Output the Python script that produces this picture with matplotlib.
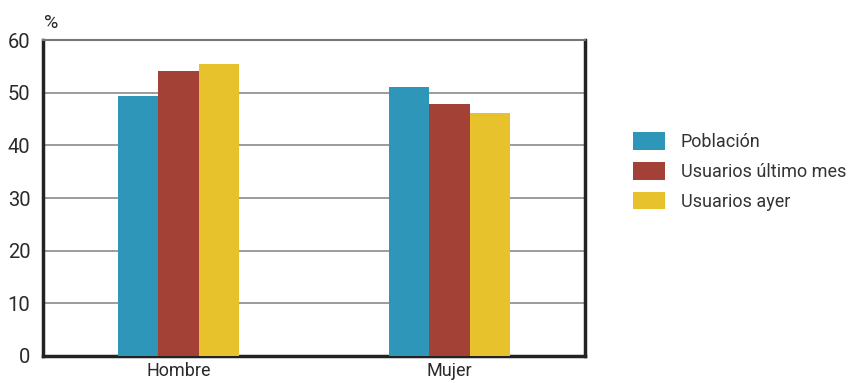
import matplotlib
matplotlib.use("Agg")
import matplotlib.pyplot as plt
import numpy as np

categories = ["Hombre", "Mujer"]
series_names = ["Población", "Usuarios último mes", "Usuarios ayer"]
poblacion = [49.3, 51.0]
usuarios_mes = [54.1, 47.8]
usuarios_ayer = [55.4, 46.1]
yticks = [0, 10, 20, 30, 40, 50, 60]

colors = ["#2E96B8", "#A44136", "#E8C22C"]

plt.rcParams['font.family'] = ['Roboto', 'DejaVu Sans']

fig = plt.figure(figsize=(8.5, 3.83), dpi=100)
ax = fig.add_axes([0.0506, 0.0705, 0.6376, 0.825])

x = np.arange(len(categories))
w = 0.15
for i, (vals, name) in enumerate(zip([poblacion, usuarios_mes, usuarios_ayer], series_names)):
  ax.bar(x + (i - 1) * w, vals, w, color=colors[i], label=name, zorder=3)

ax.set_xlim(-0.5, 1.5)
ax.set_ylim(0, 60)
ax.set_yticks(yticks)
ax.set_xticks(x)
ax.set_xticklabels(categories, fontsize=13, color="#2a2a2a")
ax.tick_params(axis='y', length=0, labelsize=14.5, pad=9, labelcolor="#2a2a2a")
ax.tick_params(axis='x', length=0, pad=4)
ax.yaxis.grid(True, color="#808080", linewidth=1.1, zorder=0)

for side in ['left', 'bottom', 'right']:
  ax.spines[side].set_color("#222222")
  ax.spines[side].set_linewidth(2.5)
ax.spines['top'].set_color("#777777")
ax.spines['top'].set_linewidth(1.5)

ax.text(0.002, 1.025, "%", transform=ax.transAxes, fontsize=14, color="#2a2a2a",
        ha='left', va='bottom')

fig.legend(loc='upper left', bbox_to_anchor=(0.745, 0.656), frameon=False,
           borderaxespad=0, borderpad=0,
           fontsize=13, handlelength=1.77, handleheight=1.15, labelspacing=0.6,
           handletextpad=0.85, labelcolor="#333333")

fig.savefig("out.png", dpi=100)
